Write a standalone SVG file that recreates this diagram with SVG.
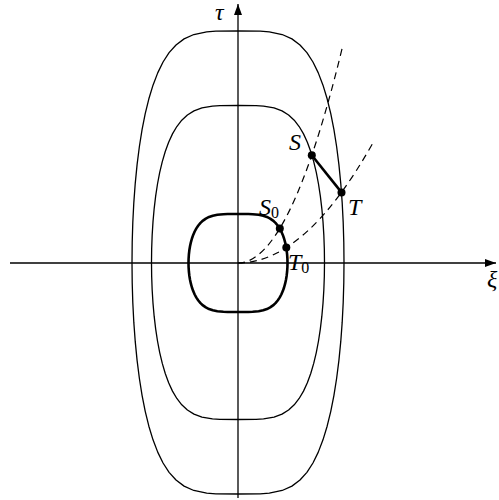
<svg xmlns="http://www.w3.org/2000/svg" xmlns:xlink="http://www.w3.org/1999/xlink" width="499" height="500" viewBox="0 0 499 500">
<style>
.lvl{fill:none;stroke:#000;stroke-width:1.3;stroke-linejoin:round;vector-effect:non-scaling-stroke}
.thick{stroke-width:2.6}
.axis{fill:none;stroke:#000;stroke-width:1.3}
.dash{fill:none;stroke:#000;stroke-width:1.2;stroke-dasharray:7 5}
.seg{fill:none;stroke:#000;stroke-width:2.6}
.dot{fill:#000}
.lbl{font-family:"Liberation Serif","DejaVu Serif",serif;font-style:italic;font-size:24px;fill:#000}
.sub{font-style:normal;font-size:16px}
</style>
<defs>
<marker id="arr" markerUnits="userSpaceOnUse" markerWidth="11" markerHeight="8" refX="11" refY="4" orient="auto" viewBox="0 0 11 8">
<path d="M0,0 L11,4 L0,8 Z" fill="#000"/>
</marker>
<path id="curve" d="M1,0 L.99809,-.08716 .99237,-.17365 .98282,-.25882 .96938,-.34202 .952,-.42262 .9306,-.5 .90507,-.57358 .87524,-.64279 .8409,-.70711 .80174,-.76604 .75735,-.81915 .70711,-.86603 .65009,-.90631 .58483,-.93969 .50875,-.96593 .41671,-.98481 .29523,-.99619 .20885,-.99905 0,-1 -.20885,-.99905 -.29523,-.99619 -.41671,-.98481 -.50875,-.96593 -.58483,-.93969 -.65009,-.90631 -.70711,-.86603 -.75735,-.81915 -.80174,-.76604 -.8409,-.70711 -.87524,-.64279 -.90507,-.57358 -.9306,-.5 -.952,-.42262 -.96938,-.34202 -.98282,-.25882 -.99237,-.17365 -.99809,-.08716 -1,0 -.99809,.08716 -.99237,.17365 -.98282,.25882 -.96938,.34202 -.952,.42262 -.9306,.5 -.90507,.57358 -.87524,.64279 -.8409,.70711 -.80174,.76604 -.75735,.81915 -.70711,.86603 -.65009,.90631 -.58483,.93969 -.50875,.96593 -.41671,.98481 -.29523,.99619 -.20885,.99905 0,1 .20885,.99905 .29523,.99619 .41671,.98481 .50875,.96593 .58483,.93969 .65009,.90631 .70711,.86603 .75735,.81915 .80174,.76604 .8409,.70711 .87524,.64279 .90507,.57358 .9306,.5 .952,.42262 .96938,.34202 .98282,.25882 .99237,.17365 .99809,.08716 Z"/>
</defs>

<g id="axes">
<line class="axis" x1="10" y1="263" x2="496" y2="263" marker-end="url(#arr)"/>
<line class="axis" x1="238" y1="498" x2="238" y2="4" marker-end="url(#arr)"/>
<text class="lbl" x="487" y="287">ξ</text>
<text class="lbl" x="215" y="20">τ</text>
</g>

<g id="level-outer">
<path class="lvl" transform="translate(238,262.5) scale(106,231.5)" d="M1,0 L.99809,-.08716 .99237,-.17365 .98282,-.25882 .96938,-.34202 .952,-.42262 .9306,-.5 .90507,-.57358 .87524,-.64279 .8409,-.70711 .80174,-.76604 .75735,-.81915 .70711,-.86603 .65009,-.90631 .58483,-.93969 .50875,-.96593 .41671,-.98481 .29523,-.99619 .20885,-.99905 0,-1 -.20885,-.99905 -.29523,-.99619 -.41671,-.98481 -.50875,-.96593 -.58483,-.93969 -.65009,-.90631 -.70711,-.86603 -.75735,-.81915 -.80174,-.76604 -.8409,-.70711 -.87524,-.64279 -.90507,-.57358 -.9306,-.5 -.952,-.42262 -.96938,-.34202 -.98282,-.25882 -.99237,-.17365 -.99809,-.08716 -1,0 -.99809,.08716 -.99237,.17365 -.98282,.25882 -.96938,.34202 -.952,.42262 -.9306,.5 -.90507,.57358 -.87524,.64279 -.8409,.70711 -.80174,.76604 -.75735,.81915 -.70711,.86603 -.65009,.90631 -.58483,.93969 -.50875,.96593 -.41671,.98481 -.29523,.99619 -.20885,.99905 0,1 .20885,.99905 .29523,.99619 .41671,.98481 .50875,.96593 .58483,.93969 .65009,.90631 .70711,.86603 .75735,.81915 .80174,.76604 .8409,.70711 .87524,.64279 .90507,.57358 .9306,.5 .952,.42262 .96938,.34202 .98282,.25882 .99237,.17365 .99809,.08716 Z"/>
</g>

<g id="level-middle">
<path class="lvl" transform="translate(238,262.5) scale(86.5,157)" d="M1,0 L.99809,-.08716 .99237,-.17365 .98282,-.25882 .96938,-.34202 .952,-.42262 .9306,-.5 .90507,-.57358 .87524,-.64279 .8409,-.70711 .80174,-.76604 .75735,-.81915 .70711,-.86603 .65009,-.90631 .58483,-.93969 .50875,-.96593 .41671,-.98481 .29523,-.99619 .20885,-.99905 0,-1 -.20885,-.99905 -.29523,-.99619 -.41671,-.98481 -.50875,-.96593 -.58483,-.93969 -.65009,-.90631 -.70711,-.86603 -.75735,-.81915 -.80174,-.76604 -.8409,-.70711 -.87524,-.64279 -.90507,-.57358 -.9306,-.5 -.952,-.42262 -.96938,-.34202 -.98282,-.25882 -.99237,-.17365 -.99809,-.08716 -1,0 -.99809,.08716 -.99237,.17365 -.98282,.25882 -.96938,.34202 -.952,.42262 -.9306,.5 -.90507,.57358 -.87524,.64279 -.8409,.70711 -.80174,.76604 -.75735,.81915 -.70711,.86603 -.65009,.90631 -.58483,.93969 -.50875,.96593 -.41671,.98481 -.29523,.99619 -.20885,.99905 0,1 .20885,.99905 .29523,.99619 .41671,.98481 .50875,.96593 .58483,.93969 .65009,.90631 .70711,.86603 .75735,.81915 .80174,.76604 .8409,.70711 .87524,.64279 .90507,.57358 .9306,.5 .952,.42262 .96938,.34202 .98282,.25882 .99237,.17365 .99809,.08716 Z"/>
</g>

<g id="level-inner">
<path class="lvl thick" transform="translate(238,263) scale(49.5,49)" d="M1,0 L.99809,-.08716 .99237,-.17365 .98282,-.25882 .96938,-.34202 .952,-.42262 .9306,-.5 .90507,-.57358 .87524,-.64279 .8409,-.70711 .80174,-.76604 .75735,-.81915 .70711,-.86603 .65009,-.90631 .58483,-.93969 .50875,-.96593 .41671,-.98481 .29523,-.99619 .20885,-.99905 0,-1 -.20885,-.99905 -.29523,-.99619 -.41671,-.98481 -.50875,-.96593 -.58483,-.93969 -.65009,-.90631 -.70711,-.86603 -.75735,-.81915 -.80174,-.76604 -.8409,-.70711 -.87524,-.64279 -.90507,-.57358 -.9306,-.5 -.952,-.42262 -.96938,-.34202 -.98282,-.25882 -.99237,-.17365 -.99809,-.08716 -1,0 -.99809,.08716 -.99237,.17365 -.98282,.25882 -.96938,.34202 -.952,.42262 -.9306,.5 -.90507,.57358 -.87524,.64279 -.8409,.70711 -.80174,.76604 -.75735,.81915 -.70711,.86603 -.65009,.90631 -.58483,.93969 -.50875,.96593 -.41671,.98481 -.29523,.99619 -.20885,.99905 0,1 .20885,.99905 .29523,.99619 .41671,.98481 .50875,.96593 .58483,.93969 .65009,.90631 .70711,.86603 .75735,.81915 .80174,.76604 .8409,.70711 .87524,.64279 .90507,.57358 .9306,.5 .952,.42262 .96938,.34202 .98282,.25882 .99237,.17365 .99809,.08716 Z"/>
</g>

<g id="connectors">
<path class="dash" d="M238,263 Q290,263 342,48.9"/>
<path class="dash" d="M238,263 Q305.5,263 373,142.7"/>
<line class="seg" x1="311.8" y1="155.3" x2="341.5" y2="192.4"/>
</g>

<g id="point-S">
<circle class="dot" cx="311.8" cy="155.3" r="4"/>
<text class="lbl" x="289" y="150">S</text>
</g>
<g id="point-T">
<circle class="dot" cx="341.5" cy="192.4" r="4"/>
<text class="lbl" x="348" y="215">T</text>
</g>
<g id="point-S0">
<circle class="dot" cx="279.8" cy="228.5" r="4"/>
<text class="lbl" x="259" y="215">S<tspan class="sub" dy="3">0</tspan></text>
</g>
<g id="point-T0">
<circle class="dot" cx="286.3" cy="247.6" r="4"/>
<text class="lbl" x="288" y="270">T<tspan class="sub" dy="3">0</tspan></text>
</g>
</svg>
